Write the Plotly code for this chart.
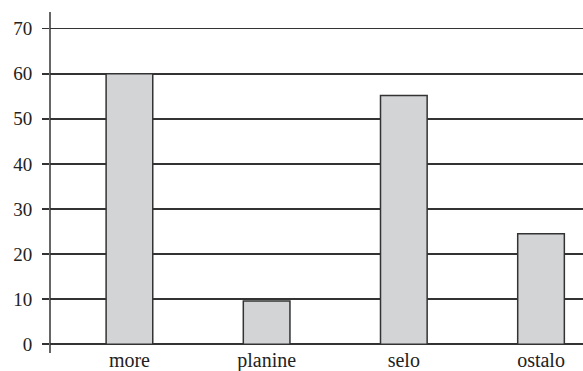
import plotly.graph_objects as go

categories = ["more", "planine", "selo", "ostalo"]
values = [60, 9.6, 55.2, 24.5]
y_ticks = [0, 10, 20, 30, 40, 50, 60, 70]

fig = go.Figure()
fig.add_trace(go.Bar(
    x=categories, y=values, width=0.34,
    marker=dict(color="#d3d4d6", line=dict(color="#333333", width=1.5)),
    showlegend=False, hoverinfo="skip",
))

font = dict(family="Liberation Serif, Times New Roman, serif", size=20, color="#222222")

fig.update_layout(
    width=583, height=371,
    margin=dict(l=50, r=0, t=12, b=25, autoexpand=False),
    paper_bgcolor="white", plot_bgcolor="white",
    font=font,
    xaxis=dict(
        range=[-0.579, 3.306], showgrid=False, showline=False, zeroline=False,
        ticks="", tickfont=font, ticklabelstandoff=0, automargin=False,
    ),
    yaxis=dict(
        range=[-0.4, 73.7], tickvals=y_ticks, showgrid=True, gridcolor="#333333", gridwidth=1.5,
        zeroline=False, showline=False,
        ticks="outside", ticklen=7, tickwidth=1.5, tickcolor="#333333",
        tickfont=dict(family=font["family"], size=19, color="#222222"),
        ticklabelstandoff=6, automargin=False,
    ),
    shapes=[dict(
        type="line", xref="paper", yref="paper", x0=0, x1=0, y0=-0.021, y1=1,
        line=dict(color="#333333", width=1.5),
    )],
)

fig.write_html(
    "out.html",
    config={"displayModeBar": False, "staticPlot": True},
    post_script="document.body.style.margin='0';document.body.style.overflow='hidden';",
)
